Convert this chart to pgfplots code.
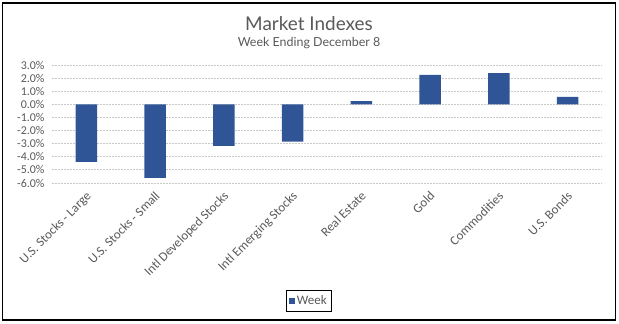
\documentclass[border=0pt]{standalone}
\usepackage{pgfplots}
\pgfplotsset{compat=1.18}
\usepackage{fontspec}
\setmainfont{Carlito}
\newfontfamily\latofont{Lato}
\definecolor{barblue}{RGB}{47,85,151}
\definecolor{txtgray}{RGB}{89,89,89}
\definecolor{gridgray}{RGB}{200,200,200}
\begin{document}
\begin{tikzpicture}
\useasboundingbox (0,0) rectangle (619bp,324bp);
\draw[black, line width=1.2bp] (2.5bp,4bp) rectangle (615.5bp,321bp);
\node[anchor=base, text=txtgray, font=\latofont\fontsize{19}{22}\selectfont] at (309bp,293.3bp) {Market Indexes};
\node[anchor=base, text=txtgray, font=\latofont\fontsize{12.5}{15}\selectfont] at (309bp,277.3bp) {Week Ending December 8};
\begin{axis}[
  at={(52bp,141bp)}, anchor=south west,
  scale only axis, width=550bp, height=118bp,
  xmin=-0.5, xmax=7.5, ymin=-6, ymax=3,
  axis line style={draw=none},
  tick style={draw=none},
  ymajorgrids, grid style={gridgray, line width=0.8bp, dash pattern=on 2bp off 1bp},
  ytick={-6,-5,-4,-3,-2,-1,0,1,2,3},
  yticklabels={-6.0\%,-5.0\%,-4.0\%,-3.0\%,-2.0\%,-1.0\%,0.0\%,1.0\%,2.0\%,3.0\%},
  yticklabel style={text=txtgray, font=\fontsize{12}{14}\selectfont, xshift=-4bp},
  xtick={0,1,2,3,4,5,6,7},
  xticklabels={U.S. Stocks - Large, U.S. Stocks - Small, Intl Developed Stocks, Intl Emerging Stocks, Real Estate, Gold, Commodities, U.S. Bonds},
  xticklabel style={text=txtgray, font=\fontsize{13}{15}\selectfont, xshift=-1bp, yshift=-6bp, rotate=45, anchor=north east, inner sep=1bp},
  legend style={at={(0.467,-1.0)}, anchor=center, draw=black, line width=0.8bp, font=\fontsize{13}{15}\selectfont, text=txtgray, inner xsep=3bp, inner ysep=3.5bp},
  legend image code/.code={\fill[barblue] (0bp,-2.9bp) rectangle (5.8bp,2.9bp);},
]
\addplot[ybar, bar width=21.5bp, fill=barblue, draw=none] coordinates {
  (0,-4.38) (1,-5.6) (2,-3.16) (3,-2.85) (4,0.25) (5,2.24) (6,2.39) (7,0.56)
};
\addlegendentry{Week}
\end{axis}
\end{tikzpicture}
\end{document}
